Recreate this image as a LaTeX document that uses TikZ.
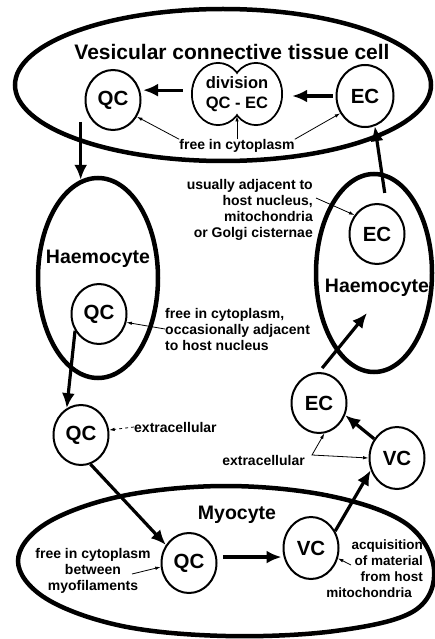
\documentclass[tikz,border=0pt]{standalone}
\usepackage{fontspec}
\setmainfont{Liberation Sans}
\usetikzlibrary{shapes.geometric,arrows.meta}
\begin{document}
\begin{tikzpicture}[x=1pt,y=-1pt,
  cell/.style={draw, line width=2pt, ellipse, minimum width=55pt, minimum height=60pt, inner sep=0pt,
    font=\fontsize{20.5}{22}\selectfont\bfseries},
  host/.style={draw, line width=4.5pt, ellipse, inner sep=0pt},
  hostlabel/.style={font=\fontsize{19.5}{21}\selectfont\bfseries, inner sep=0pt},
  note/.style={font=\fontsize{14}{16}\selectfont\bfseries, inner sep=0pt},
  bigarrow/.style={line width=3.2pt, -{Latex[length=15pt,width=13pt]}},
  thinarrow/.style={line width=0.8pt, -{Latex[length=5.5pt,width=3.5pt]}},
]
\useasboundingbox (0,0) rectangle (435,639);

% host cells
\node[host, minimum width=416pt, minimum height=152pt] (vct) at (223,85) {};
\node[host, minimum width=120pt, minimum height=200pt] (hae1) at (98,278) {};
\node[host, minimum width=116pt, minimum height=198pt] (hae2) at (374,273) {};
\draw[line width=4.5pt] plot[smooth cycle, tension=0.6] coordinates {
  (18,561) (46,523.5) (122,496) (226,486) (330,496) (406,523.5)
  (434,569) (414,611) (335,631) (226,636) (122,626) (46,598.5)};

\node[font=\fontsize{21}{23}\selectfont\bfseries, inner sep=0pt] (title) at (232,52) {Vesicular connective tissue cell};
\node[hostlabel] (hae1lab) at (98,259) {Haemocyte};
\node[hostlabel] (hae2lab) at (377,288) {Haemocyte};
\node[hostlabel] (myolab) at (237,515) {Myocyte};

% dividing cell (two lobes)
\coordinate (divL) at (218,94);
\coordinate (divR) at (256,94);
\draw[line width=2pt] (divL) ellipse [x radius=26, y radius=31];
\draw[line width=2pt] (divR) ellipse [x radius=26, y radius=31];
\fill[white] (divL) ellipse [x radius=25, y radius=30];
\fill[white] (divR) ellipse [x radius=25, y radius=30];
\node[minimum width=90pt, minimum height=62pt, inner sep=0pt, align=center,
  font=\fontsize{16.5}{20}\selectfont\bfseries] (div) at (237,94) {division\\QC - EC};
\coordinate (divnotch) at (237,116);

% small cells
\node[cell] (qc1) at (113,100) {QC};
\node[cell, minimum width=57pt, minimum height=62pt] (ec1) at (365,96) {EC};
\node[cell] (qc2) at (99,314) {QC};
\node[cell] (ec3) at (377,234) {EC};
\node[cell] (qc3) at (81,435) {QC};
\node[cell] (ec2) at (319,403) {EC};
\node[cell, minimum height=62pt] (vc2) at (397,458) {VC};
\node[cell] (qc4) at (189,563) {QC};
\node[cell, minimum height=62pt] (vc1) at (311,548) {VC};

% annotations
\node[note] (free1) at (237,146) {free in cytoplasm};
\node[note, align=right, anchor=east] (ann2) at (313,210) {usually adjacent to\\host nucleus,\\mitochondria\\or Golgi cisternae};
\node[note, align=left, anchor=west] (ann1) at (165,329) {free in cytoplasm,\\occasionally adjacent\\to host nucleus};
\node[note, anchor=west] (ext1) at (134,427) {extracellular};
\node[note, anchor=east] (ext2) at (305,460) {extracellular};
\node[note, align=center] (ann3) at (93,571) {free in cytoplasm\\between\\myofilaments};
\node[note, align=right, anchor=east, font=\fontsize{13.5}{16}\selectfont\bfseries] (ann4) at (423,569) {acquisition\\of material\\from host\\mitochondria\hspace*{11pt}};

\coordinate (h2in) at (367,313);
\coordinate (a2s) at (316,198);
\coordinate (junc) at (312,455);
\coordinate (a3s) at (132,574);
\coordinate (a4s) at (351,565);

% main pathway arrows
\draw[bigarrow, shorten <=3pt, shorten >=10pt] (ec1.west) -- (div.east |- ec1.west);
\draw[bigarrow, shorten <=9pt, shorten >=3pt] (div.west |- qc1.20) -- (qc1.20);
\draw[bigarrow] (qc1.south west -| hae1.100) -- (hae1.100);
\draw[bigarrow] (qc2.-145) -- (qc3.118);
\draw[bigarrow] (qc3.-72) -- (qc4.142);
\draw[bigarrow, shorten <=6pt, shorten >=1pt] (qc4.12) -- (vc1.west |- qc4.12);
\draw[bigarrow] (vc1.35) -- (vc2.-155);
\draw[bigarrow] (vc2.140) -- (ec2.-25);
\draw[bigarrow, shorten <=5pt] (ec2.north) -- (h2in);
\draw[bigarrow, shorten <=12pt] (ec3.72) -- (ec1.-72);

% annotation arrows
\draw[thinarrow] (free1.north west) -- (qc1.-35);
\draw[thinarrow] (free1.north) -- (divnotch);
\draw[thinarrow] (free1.north east) -- (ec1.-145);
\draw[thinarrow] (a2s) -- (ec3.140);
\draw[thinarrow] (ann1.west) -- (qc2.-17);
\draw[thinarrow, dashed] (ext1.west) -- (qc3.10);
\draw[line width=0.8pt, {Latex[length=5.5pt,width=3.5pt]}-{Latex[length=5.5pt,width=3.5pt]}] (ec2.-80) -- (junc) -- (vc2.west);
\draw[thinarrow] (a3s) -- (qc4.-172);
\draw[thinarrow] (a4s) -- (vc1.-21);
\end{tikzpicture}
\end{document}
